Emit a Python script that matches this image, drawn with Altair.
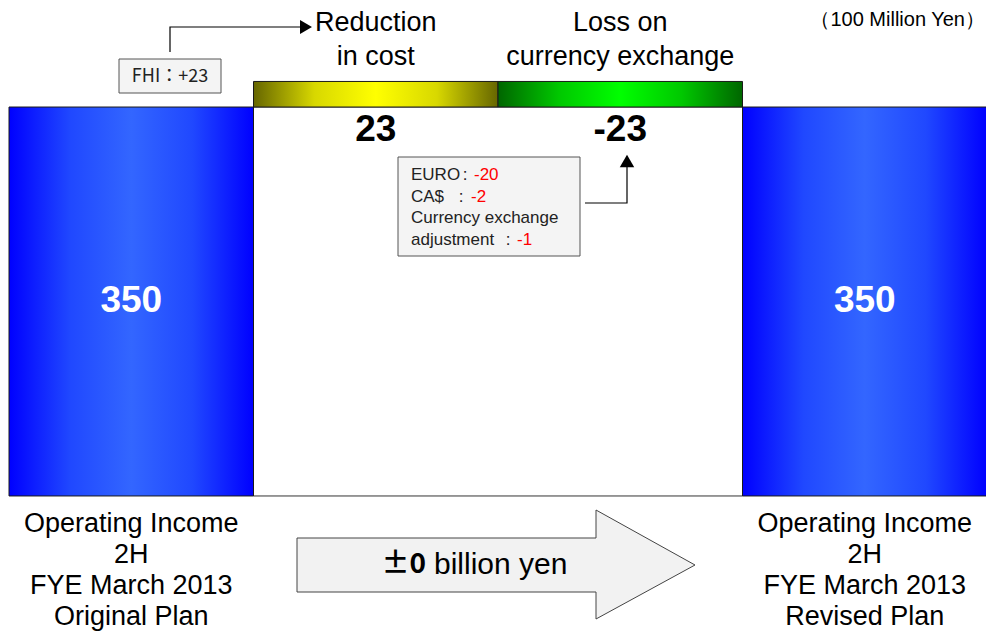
import altair as alt
import pandas as pd

# ---------------- data ----------------
steps = [
    "Operating Income\n2H\nFYE March 2013\nOriginal Plan",
    "Reduction\nin cost",
    "Loss on\ncurrency exchange",
    "Operating Income\n2H\nFYE March 2013\nRevised Plan",
]
kinds = ["total", "delta", "delta", "total"]
values = [350, 23, -23, 350]
value_labels = ["350", "23", "-23", "350"]
fills = ["blue", "yellow", "green", "blue"]

unit_text = "（100 Million Yen）"
fhi_note = "FHI：+23"
fx_labels = ["EURO", "CA$", "Currency exchange", "adjustment"]
fx_values = ["-20", "-2", "", "-1"]
arrow_bold = "±0"
arrow_text = "billion yen"

# ---------------- waterfall table ----------------
rows = []
running = 0
for i, (s, k, v, vl, f) in enumerate(zip(steps, kinds, values, value_labels, fills)):
    if k == "total":
        start, end = 0, v
        running = v
    else:
        start, end = running, running + v
        running += v
    rows.append(dict(step=s, kind=k, idx=i, idx2=i + 1, start=start, end=end,
                     lo=min(start, end), hi=max(start, end), mid=(start + end) / 2,
                     vlabel=vl, fill=f))
df = pd.DataFrame(rows)

W, H = 978, 623
XS = alt.Scale(domain=[0, 4], range=[1, 979])
YS = alt.Scale(domain=[-121.5, 439.1])

def grad(edge, inner, center):
    return alt.Gradient(
        gradient="linear",
        stops=[alt.GradientStop(color=edge, offset=0),
               alt.GradientStop(color=inner, offset=0.25),
               alt.GradientStop(color=center, offset=0.5),
               alt.GradientStop(color=inner, offset=0.75),
               alt.GradientStop(color=edge, offset=1)],
        x1=0, x2=1, y1=0, y2=0,
    )

base = alt.Chart(df)

# middle white frame spanning the change steps
frame_df = pd.DataFrame([dict(
    x=df[df.kind == "delta"].idx.min(), x2=df[df.kind == "delta"].idx2.max(),
    y=0, y2=df[df.kind == "total"].end.iloc[0])])
frame = alt.Chart(frame_df).mark_rect(fill="white", stroke="#333333", strokeWidth=1).encode(
    x=alt.X("x:Q", scale=XS, axis=None), x2="x2:Q",
    y=alt.Y("y:Q", scale=YS, axis=None), y2="y2:Q")

def bars(color_name, g):
    return base.transform_filter(alt.datum.fill == color_name).mark_rect(
        fill=g, stroke="#1a1a1a", strokeWidth=1).encode(
        x=alt.X("idx:Q", scale=XS, axis=None), x2="idx2:Q",
        y=alt.Y("lo:Q", scale=YS, axis=None), y2="hi:Q")

blue = bars("blue", grad("#0000ff", "#2048ff", "#3366ff"))
yellow = bars("yellow", grad("#666600", "#d8d800", "#ffff00"))
green = bars("green", grad("#006600", "#00c800", "#00ff00"))

font = "Liberation Sans"

total_vals = base.transform_filter(alt.datum.kind == "total").transform_calculate(
    cx="datum.idx + 0.5").mark_text(
    font=font, fontSize=37, fontWeight="bold", color="white", baseline="middle").encode(
    x=alt.X("cx:Q", scale=XS, axis=None), y=alt.Y("mid:Q", scale=YS, axis=None),
    text="vlabel:N")

delta_vals = base.transform_filter(alt.datum.kind == "delta").transform_calculate(
    cx="datum.idx + 0.5").mark_text(
    font=font, fontSize=37, fontWeight="bold", color="black", baseline="middle", dy=23).encode(
    x=alt.X("cx:Q", scale=XS, axis=None), y=alt.Y("lo:Q", scale=YS, axis=None),
    text="vlabel:N")

delta_labels = base.transform_filter(alt.datum.kind == "delta").transform_calculate(
    cx="datum.idx + 0.5").mark_text(
    font=font, fontSize=27, color="black", baseline="middle", lineBreak="\n",
    lineHeight=34, dy=-58).encode(
    x=alt.X("cx:Q", scale=XS, axis=None), y=alt.Y("hi:Q", scale=YS, axis=None),
    text="step:N")

total_labels = base.transform_filter(alt.datum.kind == "total").transform_calculate(
    cx="datum.idx + 0.5", zero="0").mark_text(
    font=font, fontSize=27, color="black", baseline="middle", lineBreak="\n",
    lineHeight=31, dy=28).encode(
    x=alt.X("cx:Q", scale=XS, axis=None), y=alt.Y("zero:Q", scale=YS, axis=None),
    text="step:N")

# ---------------- annotations (pixel positions) ----------------
PX = dict(scale=None, axis=None)

unit = alt.Chart(pd.DataFrame([dict(x=977, y=12, t=unit_text)])).mark_text(
    font=font, fontSize=20, align="right", baseline="middle").encode(
    x=alt.X("x:Q", **PX), y=alt.Y("y:Q", **PX), text="t:N")

# FHI note box + connector
fhi_box = alt.Chart(pd.DataFrame([dict(x=111, x2=213, y=51, y2=85)])).mark_rect(
    fill="#f4f4f4", stroke="#555555", strokeWidth=1).encode(
    x=alt.X("x:Q", **PX), x2="x2:Q", y=alt.Y("y:Q", **PX), y2="y2:Q")
fhi_txt = alt.Chart(pd.DataFrame([dict(x=162, y=69, t=fhi_note)])).mark_text(
    font="Noto Sans CJK JP", fontSize=18, color="#222222", baseline="middle").encode(
    x=alt.X("x:Q", **PX), y=alt.Y("y:Q", **PX), text="t:N")
fhi_line = alt.Chart(pd.DataFrame(dict(x=[162, 162, 293], y=[44, 19, 19], o=[0, 1, 2]))).mark_line(
    color="black", strokeWidth=1.2).encode(
    x=alt.X("x:Q", **PX), y=alt.Y("y:Q", **PX), order="o:Q")
fhi_head = alt.Chart(pd.DataFrame([dict(x=298, y=19)])).mark_point(
    shape="triangle-right", filled=True, color="black", size=190, opacity=1).encode(
    x=alt.X("x:Q", **PX), y=alt.Y("y:Q", **PX))

# currency note box + connector
fx_box = alt.Chart(pd.DataFrame([dict(x=390, x2=572, y=149, y2=248)])).mark_rect(
    fill="#f4f4f4", stroke="#555555", strokeWidth=1).encode(
    x=alt.X("x:Q", **PX), x2="x2:Q", y=alt.Y("y:Q", **PX), y2="y2:Q")
fx_df = pd.DataFrame(dict(
    label=fx_labels, value=fx_values,
    colon=[":", ":", "", ":"],
    y=[167, 189, 210, 232],
    cx=[457, 453, 0, 500],
    vx=[466, 463, 0, 509],
))
fx_lab = alt.Chart(fx_df).mark_text(
    font=font, fontSize=17, color="#222222", align="left", baseline="middle").encode(
    x=alt.value(403), y=alt.Y("y:Q", **PX), text="label:N")
fx_col = alt.Chart(fx_df).transform_filter(alt.datum.colon != "").mark_text(
    font=font, fontSize=17, color="#222222", align="center", baseline="middle").encode(
    x=alt.X("cx:Q", **PX), y=alt.Y("y:Q", **PX), text="colon:N")
fx_val = alt.Chart(fx_df).transform_filter(alt.datum.value != "").mark_text(
    font=font, fontSize=17, color="#ff0000", align="left", baseline="middle").encode(
    x=alt.X("vx:Q", **PX), y=alt.Y("y:Q", **PX), text="value:N")
fx_line = alt.Chart(pd.DataFrame(dict(x=[577, 619, 619], y=[195, 195, 158], o=[0, 1, 2]))).mark_line(
    color="black", strokeWidth=1.2).encode(
    x=alt.X("x:Q", **PX), y=alt.Y("y:Q", **PX), order="o:Q")
fx_head = alt.Chart(pd.DataFrame([dict(x=619, y=153)])).mark_point(
    shape="triangle-up", filled=True, color="black", size=210, opacity=1).encode(
    x=alt.X("x:Q", **PX), y=alt.Y("y:Q", **PX))

# big arrow at the bottom
arrow_df = pd.DataFrame(dict(
    x=[289, 588, 588, 687, 588, 588, 289, 289],
    y=[530, 530, 502, 557, 611, 584, 584, 530],
    o=list(range(8))))
big_arrow = alt.Chart(arrow_df).mark_line(
    fill="#f2f2f2", stroke="#444444", strokeWidth=1, interpolate="linear").encode(
    x=alt.X("x:Q", **PX), y=alt.Y("y:Q", **PX), order="o:Q")
arrow_t1 = alt.Chart(pd.DataFrame([dict(x=418, y=557, t=arrow_bold)])).mark_text(
    font="Noto Sans CJK JP", fontSize=28, fontWeight="bold", align="right", baseline="middle").encode(
    x=alt.X("x:Q", **PX), y=alt.Y("y:Q", **PX), text="t:N")
arrow_t2 = alt.Chart(pd.DataFrame([dict(x=426, y=557, t=arrow_text)])).mark_text(
    font=font, fontSize=30, align="left", baseline="middle").encode(
    x=alt.X("x:Q", **PX), y=alt.Y("y:Q", **PX), text="t:N")

chart = alt.layer(
    frame, blue, yellow, green,
    total_vals, delta_vals, delta_labels, total_labels,
    unit, fhi_box, fhi_txt, fhi_line, fhi_head,
    fx_box, fx_lab, fx_col, fx_val, fx_line, fx_head,
    big_arrow, arrow_t1, arrow_t2,
).resolve_scale(x="independent", y="independent").properties(
    width=W, height=H, padding=0, autosize=alt.AutoSizeParams(type="none"),
    background="white",
).configure_view(stroke=None)

chart.save("out.html", embed_options={"renderer": "svg", "actions": False})
